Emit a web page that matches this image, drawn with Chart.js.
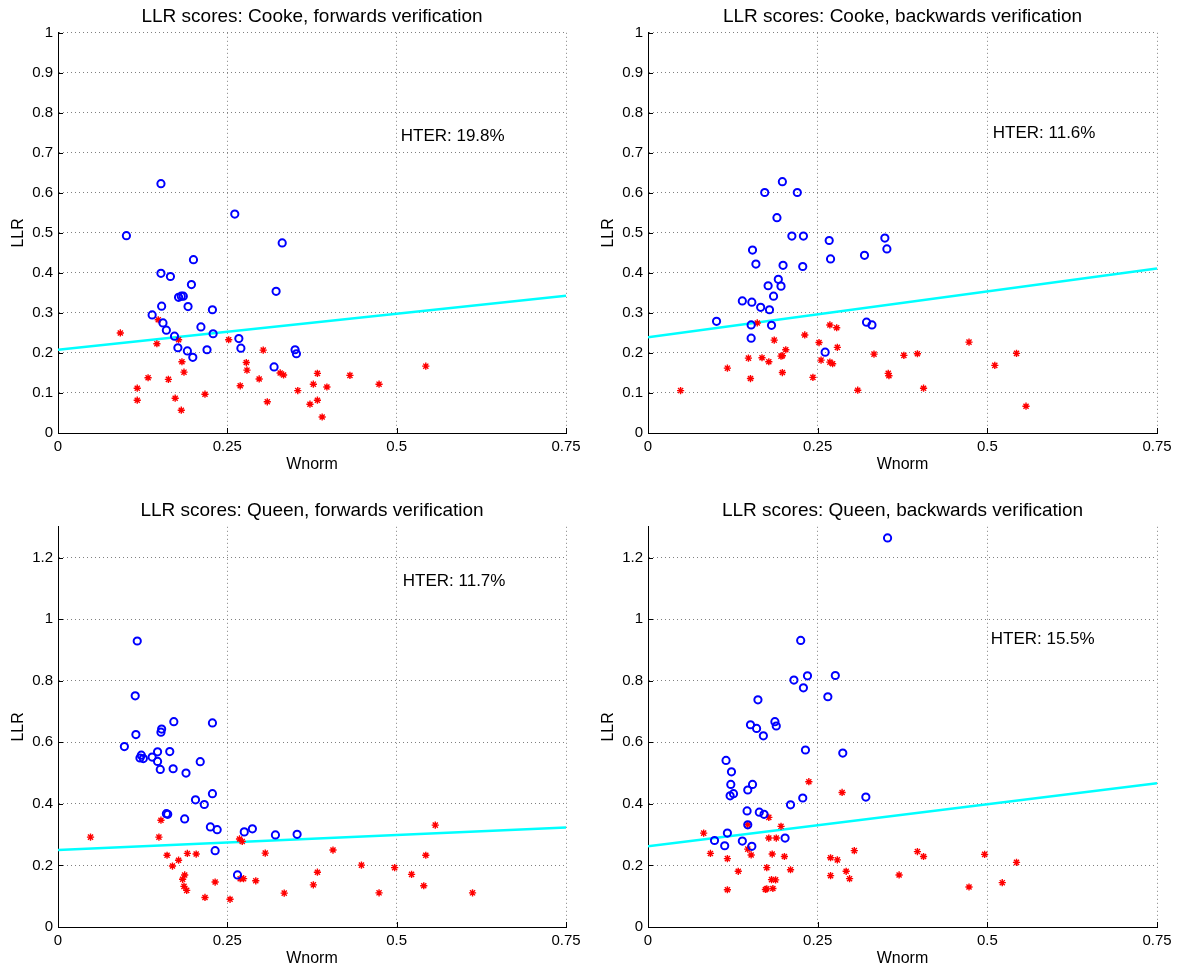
<!DOCTYPE html>
<html>
<head>
<meta charset="utf-8">
<script src="https://cdn.jsdelivr.net/npm/chart.js@4.4.1/dist/chart.umd.min.js"></script>
<style>
  html, body { margin: 0; padding: 0; background: #fff; overflow: hidden; }
  #page { position: relative; width: 1180px; height: 971px; overflow: hidden; background: #fff; }
  canvas { position: absolute; }
</style>
</head>
<body>
<div id="page">
  <canvas id="c1" width="596" height="480" style="left:0;top:0"></canvas>
  <canvas id="c2" width="590" height="480" style="left:590px;top:0"></canvas>
  <canvas id="c3" width="596" height="480" style="left:0;top:494px"></canvas>
  <canvas id="c4" width="590" height="480" style="left:590px;top:494px"></canvas>
</div>
<script>
// ---- data: [Wnorm, LLR] ----
const cookeFwdTarget = [[0.152,0.623],[0.261,0.547],[0.101,0.493],[0.331,0.475],[0.200,0.433],[0.152,0.399],[0.166,0.391],[0.197,0.371],[0.322,0.354],[0.178,0.339],[0.182,0.342],[0.185,0.342],[0.153,0.317],[0.192,0.316],[0.228,0.308],[0.139,0.295],[0.155,0.275],[0.160,0.257],[0.211,0.265],[0.229,0.248],[0.172,0.242],[0.267,0.236],[0.177,0.213],[0.191,0.205],[0.199,0.189],[0.220,0.208],[0.270,0.212],[0.350,0.208],[0.352,0.198],[0.319,0.165]];
const cookeFwdImpostor = [[0.092,0.250],[0.148,0.283],[0.146,0.223],[0.178,0.233],[0.252,0.233],[0.303,0.207],[0.183,0.178],[0.186,0.152],[0.278,0.176],[0.279,0.157],[0.133,0.138],[0.163,0.134],[0.297,0.135],[0.328,0.150],[0.333,0.145],[0.383,0.149],[0.431,0.144],[0.117,0.112],[0.269,0.118],[0.377,0.122],[0.397,0.115],[0.354,0.106],[0.217,0.097],[0.117,0.082],[0.173,0.087],[0.309,0.078],[0.372,0.072],[0.383,0.082],[0.182,0.057],[0.390,0.040],[0.474,0.122],[0.543,0.167]];
const cookeFwdFit = [0.208, 0.343];

const cookeBwdTarget = [[0.198,0.628],[0.172,0.601],[0.220,0.601],[0.190,0.538],[0.212,0.492],[0.229,0.492],[0.267,0.481],[0.154,0.457],[0.269,0.435],[0.319,0.444],[0.159,0.422],[0.199,0.419],[0.228,0.416],[0.192,0.384],[0.177,0.368],[0.196,0.367],[0.185,0.342],[0.139,0.330],[0.153,0.327],[0.166,0.314],[0.179,0.308],[0.101,0.279],[0.152,0.270],[0.182,0.269],[0.322,0.277],[0.330,0.270],[0.152,0.237],[0.261,0.202],[0.349,0.487],[0.352,0.460]];
const cookeBwdImpostor = [[0.048,0.106],[0.117,0.162],[0.151,0.136],[0.148,0.187],[0.161,0.275],[0.168,0.188],[0.178,0.178],[0.186,0.232],[0.196,0.192],[0.198,0.193],[0.203,0.208],[0.198,0.151],[0.231,0.245],[0.243,0.139],[0.252,0.226],[0.255,0.182],[0.268,0.270],[0.278,0.263],[0.279,0.214],[0.268,0.177],[0.272,0.173],[0.309,0.107],[0.333,0.197],[0.354,0.149],[0.355,0.143],[0.377,0.194],[0.397,0.198],[0.406,0.112],[0.473,0.227],[0.511,0.169],[0.543,0.199],[0.557,0.067]];
const cookeBwdFit = [0.239, 0.411];

const queenFwdTarget = [[0.117,0.929],[0.114,0.751],[0.115,0.625],[0.171,0.667],[0.228,0.663],[0.153,0.643],[0.152,0.633],[0.098,0.586],[0.147,0.569],[0.165,0.570],[0.123,0.558],[0.121,0.549],[0.126,0.547],[0.139,0.552],[0.147,0.538],[0.210,0.537],[0.151,0.512],[0.170,0.514],[0.189,0.500],[0.228,0.433],[0.203,0.413],[0.216,0.398],[0.160,0.368],[0.162,0.366],[0.187,0.351],[0.225,0.325],[0.235,0.316],[0.275,0.309],[0.287,0.319],[0.321,0.299],[0.353,0.301],[0.232,0.248],[0.265,0.169]];
const queenFwdImpostor = [[0.048,0.292],[0.152,0.347],[0.149,0.292],[0.268,0.286],[0.272,0.278],[0.161,0.233],[0.191,0.239],[0.204,0.237],[0.306,0.240],[0.178,0.217],[0.169,0.198],[0.187,0.169],[0.184,0.155],[0.186,0.132],[0.190,0.119],[0.232,0.146],[0.269,0.157],[0.274,0.157],[0.292,0.150],[0.383,0.178],[0.377,0.137],[0.334,0.110],[0.217,0.096],[0.254,0.090],[0.406,0.250],[0.448,0.201],[0.497,0.193],[0.474,0.111],[0.522,0.171],[0.543,0.233],[0.540,0.134],[0.557,0.331],[0.612,0.111]];
const queenFwdFit = [0.250, 0.323];

const queenBwdTarget = [[0.353,1.264],[0.225,0.931],[0.215,0.802],[0.235,0.816],[0.276,0.817],[0.229,0.777],[0.265,0.748],[0.162,0.738],[0.151,0.657],[0.160,0.645],[0.187,0.667],[0.189,0.653],[0.170,0.621],[0.232,0.575],[0.287,0.565],[0.115,0.541],[0.123,0.504],[0.122,0.463],[0.154,0.463],[0.147,0.445],[0.121,0.426],[0.126,0.433],[0.228,0.419],[0.321,0.422],[0.210,0.397],[0.146,0.377],[0.164,0.373],[0.171,0.366],[0.147,0.332],[0.117,0.305],[0.202,0.289],[0.098,0.281],[0.139,0.279],[0.113,0.264],[0.153,0.262]];
const queenBwdImpostor = [[0.237,0.472],[0.286,0.437],[0.147,0.333],[0.178,0.356],[0.196,0.327],[0.082,0.305],[0.178,0.289],[0.189,0.289],[0.092,0.239],[0.147,0.253],[0.152,0.234],[0.117,0.222],[0.183,0.237],[0.201,0.229],[0.175,0.193],[0.133,0.181],[0.210,0.186],[0.304,0.248],[0.269,0.225],[0.279,0.218],[0.292,0.181],[0.269,0.167],[0.297,0.157],[0.182,0.154],[0.188,0.153],[0.117,0.121],[0.173,0.122],[0.175,0.124],[0.184,0.125],[0.370,0.169],[0.397,0.245],[0.406,0.229],[0.473,0.130],[0.496,0.236],[0.522,0.144],[0.543,0.210]];
const queenBwdFit = [0.262, 0.467];

const fitX = [0, 0.75];
const xTicks = [0, 0.25, 0.5, 0.75];
const cookeYTicks = [0, 0.1, 0.2, 0.3, 0.4, 0.5, 0.6, 0.7, 0.8, 0.9, 1];
const queenYTicks = [0, 0.2, 0.4, 0.6, 0.8, 1, 1.2];

const FONT = '"Liberation Sans", Arial, Helvetica, sans-serif';

// text label placed in data coordinates
const hterLabel = {
  id: 'hterLabel',
  afterDatasetsDraw(chart, args, opts) {
    const { ctx, scales: { x, y } } = chart;
    ctx.save();
    ctx.font = '17px ' + FONT;
    ctx.fillStyle = '#000';
    ctx.textAlign = 'left';
    ctx.textBaseline = 'middle';
    ctx.fillText(opts.text, x.getPixelForValue(opts.x), y.getPixelForValue(opts.y));
    ctx.restore();
  }
};

// matlab style ticks pointing into the plot
const innerTicks = {
  id: 'innerTicks',
  afterDraw(chart) {
    const { ctx, chartArea: a, scales: { x, y } } = chart;
    ctx.save();
    ctx.strokeStyle = '#000';
    ctx.lineWidth = 1;
    ctx.beginPath();
    x.ticks.forEach(t => {
      const px = Math.round(x.getPixelForValue(t.value)) + 0.5;
      ctx.moveTo(px, a.bottom);
      ctx.lineTo(px, a.bottom - 5);
    });
    y.ticks.forEach(t => {
      const py = Math.round(y.getPixelForValue(t.value)) + 0.5;
      ctx.moveTo(a.left, py);
      ctx.lineTo(a.left + 5, py);
    });
    ctx.stroke();
    ctx.restore();
  }
};

const fmt = v => String(+Number(v).toFixed(2));
const pts = arr => arr.map(p => ({ x: p[0], y: p[1] }));

function makeChart(id, title, target, impostor, fit, yMax, yTicks, hter, padRight) {
  const grid = { color: '#808080', lineWidth: 1, drawTicks: false };
  const border = { display: true, color: '#000', width: 1, dash: [1, 3] };
  return new Chart(document.getElementById(id), {
    type: 'scatter',
    data: {
      datasets: [
        { label: 'target', data: pts(target), pointStyle: 'circle', radius: 3.6, borderWidth: 2,
          borderColor: '#0000ff', backgroundColor: 'rgba(0,0,0,0)', order: 1 },
        { label: 'impostor', data: pts(impostor), pointStyle: 'star', radius: 3.6, borderWidth: 1.4,
          borderColor: '#ff0000', backgroundColor: '#ff0000', order: 2 },
        { label: 'fit', type: 'line', data: fitX.map((x, i) => ({ x, y: fit[i] })), borderColor: '#00ffff',
          borderWidth: 2.5, pointRadius: 0, fill: false, order: 3 }
      ]
    },
    options: {
      responsive: false,
      animation: false,
      devicePixelRatio: 1,
      layout: { padding: { left: 0, right: padRight, top: 0, bottom: 0 } },
      plugins: {
        legend: { display: false },
        tooltip: { enabled: false },
        title: { display: true, text: title, fullSize: false, color: '#000',
          font: { family: FONT, size: 19, weight: 'normal' }, padding: { top: 5, bottom: 5 } },
        hterLabel: hter
      },
      scales: {
        x: {
          type: 'linear', min: 0, max: 0.75,
          afterBuildTicks: s => { s.ticks = xTicks.map(v => ({ value: v })); },
          afterFit: s => { s.height = 47; },
          ticks: { padding: 5, color: '#000', font: { family: FONT, size: 15 }, maxRotation: 0, callback: fmt },
          grid, border,
          title: { display: true, text: 'Wnorm', color: '#000', font: { family: FONT, size: 16 }, padding: { top: 0, bottom: 6 } }
        },
        y: {
          type: 'linear', min: 0, max: yMax,
          afterBuildTicks: s => { s.ticks = yTicks.map(v => ({ value: v })); },
          afterFit: s => { s.width = 58; },
          ticks: { padding: 5, color: '#000', font: { family: FONT, size: 15 }, callback: fmt },
          grid, border,
          title: { display: true, text: 'LLR', color: '#000', font: { family: FONT, size: 16 }, padding: { top: 9, bottom: 0 } }
        }
      }
    },
    plugins: [hterLabel, innerTicks]
  });
}

makeChart('c1', 'LLR scores: Cooke, forwards verification', cookeFwdTarget, cookeFwdImpostor, cookeFwdFit,
  1, cookeYTicks, { text: 'HTER: 19.8%', x: 0.506, y: 0.741 }, 30);
makeChart('c2', 'LLR scores: Cooke, backwards verification', cookeBwdTarget, cookeBwdImpostor, cookeBwdFit,
  1, cookeYTicks, { text: 'HTER: 11.6%', x: 0.508, y: 0.750 }, 23);
makeChart('c3', 'LLR scores: Queen, forwards verification', queenFwdTarget, queenFwdImpostor, queenFwdFit,
  1.3, queenYTicks, { text: 'HTER: 11.7%', x: 0.509, y: 1.124 }, 30);
makeChart('c4', 'LLR scores: Queen, backwards verification', queenBwdTarget, queenBwdImpostor, queenBwdFit,
  1.3, queenYTicks, { text: 'HTER: 15.5%', x: 0.505, y: 0.936 }, 23);
</script>
</body>
</html>
